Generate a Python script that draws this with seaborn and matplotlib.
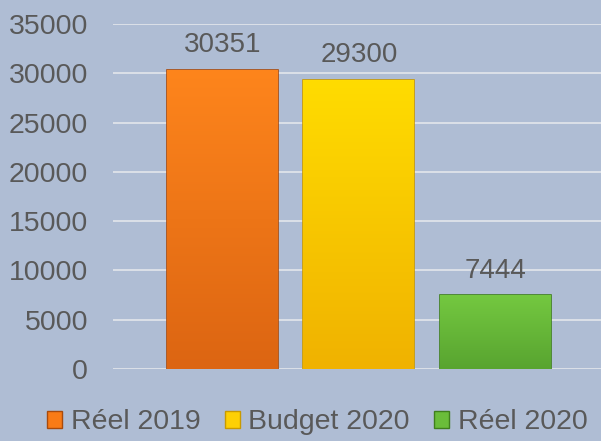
import matplotlib
matplotlib.use("Agg")
import matplotlib.pyplot as plt
from matplotlib.colors import LinearSegmentedColormap
import seaborn as sns
import pandas as pd
import numpy as np

# data
categories = ["Réel 2019", "Budget 2020", "Réel 2020"]
values = [30351, 29300, 7444]
colors = ["#f97b16", "#fdd004", "#6abd3a"]
tops = ["#fe851c", "#ffdc00", "#74c840"]
bottoms = ["#dc6512", "#f0b200", "#58a430"]
edges = ["#a84a0c", "#c99a00", "#3f7f1d"]

bg = "#afbdd4"
txt = "#595959"

sns.set_theme(style="white")
plt.rcParams["font.family"] = ["Liberation Sans", "DejaVu Sans"]

df = pd.DataFrame({"cat": categories, "val": values})

fig = plt.figure(figsize=(6.01, 4.41), dpi=100, facecolor=bg)
ax = fig.add_axes([0.188, 0.1637, 0.812, 0.7819])
ax.set_facecolor(bg)

sns.barplot(data=df, x="cat", y="val", hue="cat", palette=colors,
            width=0.813, saturation=1, legend=False, ax=ax, zorder=3)

ax.set_ylim(0, 35000)
ax.set_xlim(-0.802, 2.773)

# vertical shading inside each bar
grad = np.linspace(1, 0, 256).reshape(-1, 1)
for bar, t, b, ec in zip(ax.patches, tops, bottoms, edges):
    bar.set_edgecolor(ec)
    bar.set_linewidth(1.2)
    cmap = LinearSegmentedColormap.from_list("g", [b, t])
    x0, y0 = bar.get_x(), bar.get_y()
    im = ax.imshow(grad, cmap=cmap, aspect="auto", zorder=3.5,
                   extent=[x0, x0 + bar.get_width(), y0, y0 + bar.get_height()])
    im.set_clip_path(bar)

for i, v in enumerate(values):
    ax.annotate(str(v), (i, v), xytext=(0, 8.5), textcoords="offset points",
                ha="center", va="bottom", fontsize=20, color=txt)

ax.set_xlim(-0.802, 2.773)
ax.set_ylim(0, 35000)
ax.set_yticks(range(0, 35001, 5000))
ax.set_xticks([])
ax.set_xlabel("")
ax.set_ylabel("")
ax.tick_params(axis="y", labelsize=20.5, labelcolor=txt, length=0, pad=18)
ax.grid(axis="y", color="#dfe3ea", linewidth=1.3, zorder=0)
for s in ax.spines.values():
    s.set_visible(False)

handles = [plt.Rectangle((0, 0), 1, 1, facecolor=c, edgecolor=e, linewidth=1)
           for c, e in zip(colors, edges)]
fig.legend(handles, categories, loc="center", bbox_to_anchor=(0.528, 0.042),
           ncol=3, frameon=False, fontsize=20.5, labelcolor=txt,
           handlelength=0.53, handleheight=0.53, handletextpad=0.3,
           columnspacing=0.85, borderpad=0, borderaxespad=0)

fig.savefig("out.png", dpi=100, facecolor=bg)
